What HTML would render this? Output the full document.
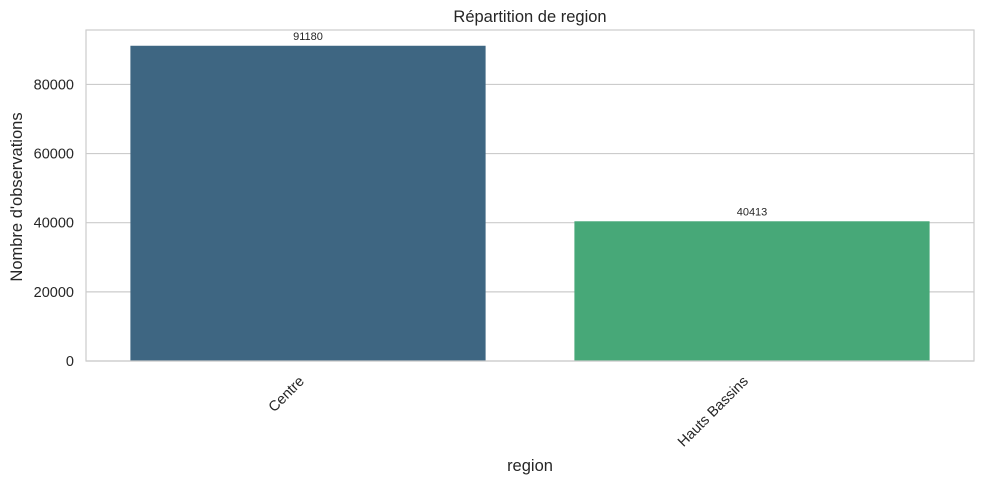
<!DOCTYPE html>
<html><head><meta charset="utf-8"><style>
body{margin:0;background:#fff;}
svg text{font-family:"Liberation Sans","DejaVu Sans",sans-serif;fill:#262626;}
.tk{font-size:14.5px;}
.ttl{font-size:16.5px;}
.val{font-size:11px;}
</style></head><body>
<svg width="984" height="484" xmlns="http://www.w3.org/2000/svg">
<g id="grid"></g>
<g id="bars"></g>
<rect x="86" y="30" width="888" height="331" fill="none" stroke="#cccccc" stroke-width="1.2"/>
<g id="ticks"></g>
<text x="530" y="22" text-anchor="middle" class="ttl">Répartition de region</text>
<text x="530" y="471" text-anchor="middle" class="ttl">region</text>
<text transform="translate(22,197) rotate(-90)" text-anchor="middle" class="ttl">Nombre d'observations</text>
</svg>
<script>
const categories=["Centre","Hauts Bassins"];
const counts=[91180,40413];
const yTicks=[0,20000,40000,60000,80000];
const colors=["#3e6682","#47a878"];
const L=86,R=974,T=30,B=361;
const yMax=Math.max(...counts)*1.05;
const y=v=>B-(v/yMax)*(B-T);
const band=(R-L)/categories.length;
const xc=i=>L+band*(i+0.5);
const NS="http://www.w3.org/2000/svg";
const mk=(t,a)=>{const e=document.createElementNS(NS,t);for(const k in a)e.setAttribute(k,a[k]);return e;};
const grid=document.getElementById('grid'),bars=document.getElementById('bars'),ticks=document.getElementById('ticks');
yTicks.forEach(v=>{
 const l=mk('line',{x1:L,x2:R,y1:y(v),y2:y(v),stroke:'#cccccc','stroke-width':1.2});
 
 
 grid.appendChild(l);
 const t=mk('text',{x:L-12,y:y(v)+5,'text-anchor':'end','class':'tk'});
 t.textContent=v;
 
 
 ticks.appendChild(t);
});
categories.forEach((c,i)=>{
 const w=band*0.8;
 const r=mk('rect',{x:xc(i)-w/2,y:y(counts[i]),width:w,height:B-y(counts[i]),fill:colors[i]});
 
 
 bars.appendChild(r);
 const v=mk('text',{x:xc(i),y:y(counts[i])-6,'text-anchor':'middle','class':'val'});
 v.textContent=counts[i];
 
 
 bars.appendChild(v);
 const t=mk('text',{transform:`translate(${xc(i)-3},${B+21}) rotate(-45)`,'text-anchor':'end','class':'tk'});
 t.textContent=c;
 
 
 ticks.appendChild(t);
});
</script>
</body></html>
